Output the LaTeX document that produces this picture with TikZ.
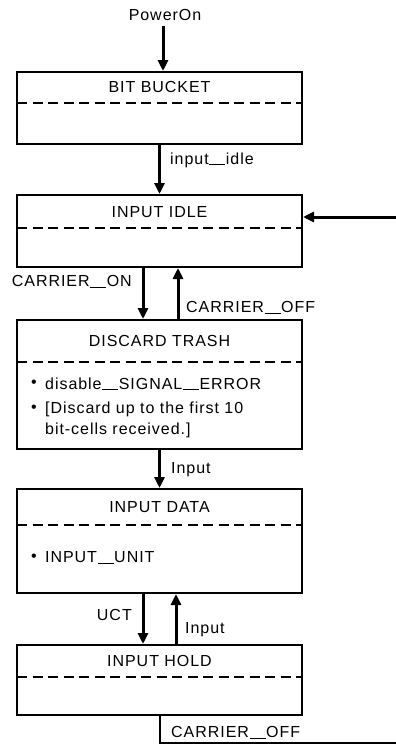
\documentclass[tikz,border=0pt]{standalone}
\usepackage{fontspec}
\setmainfont[LetterSpace=6]{Liberation Sans}
\usetikzlibrary{arrows.meta,calc}
\newcommand\usc{\kern0.6pt\rule[-1.2pt]{16pt}{1.1pt}\kern0.6pt}
\begin{document}
\begin{tikzpicture}[x=1pt,y=-1pt,
  every node/.style={font=\fontsize{16}{19}\selectfont, inner sep=0pt},
  statebox/.style={draw, line width=2pt, minimum width=285pt},
  sep/.style={line width=1.6pt, dash pattern=on 10pt off 5.5pt},
  arr/.style={line width=3pt, -{Triangle[length=11pt,width=10pt]}},
  lab/.style={anchor=west},
  labr/.style={anchor=east}]
\useasboundingbox (0,0) rectangle (396,755);
% states
\node[statebox, minimum height=72pt] (bb) at (159.5,108) {};
\node[statebox, minimum height=72pt] (ii) at (159.5,231) {};
\node[statebox, minimum height=129pt] (dt) at (159.5,384.5) {};
\node[statebox, minimum height=104pt] (id) at (159.5,541) {};
\node[statebox, minimum height=70pt] (ih) at (159.5,680) {};
% titles
\node (bbt) at ($(bb.north)+(0,16)$) {BIT BUCKET};
\node (iit) at ($(ii.north)+(0,18)$) {INPUT IDLE};
\node (dtt) at ($(dt.north)+(0,22)$) {DISCARD TRASH};
\node (idt) at ($(id.north)+(0,19)$) {INPUT DATA};
\node (iht) at ($(ih.north)+(0,17)$) {INPUT HOLD};
% separators
\draw[sep] ($(bb.north west)+(1,32)$) -- ($(bb.north east)+(-1,32)$);
\draw[sep] ($(ii.north west)+(1,34)$) -- ($(ii.north east)+(-1,34)$);
\draw[sep] ($(dt.north west)+(1,43)$) -- ($(dt.north east)+(-1,43)$);
\draw[sep] ($(id.north west)+(1,37)$) -- ($(id.north east)+(-1,37)$);
\draw[sep] ($(ih.north west)+(1,33)$) -- ($(ih.north east)+(-1,33)$);
% actions
\node (b1) at (34,384) {\textbullet};
\node[lab] (a1) at (45,384) {disable\usc SIGNAL\usc ERROR};
\node (b2) at (34,409) {\textbullet};
\node[lab] (a2) at (45,409) {[Discard up to the first 10};
\node[lab] (a3) at (45,430) {bit-cells received.]};
\node (b3) at (34,558) {\textbullet};
\node[lab] (a4) at (45,558) {INPUT\usc UNIT};
% transitions
\node (pw) at (165,15) {PowerOn};
\draw[arr] ([xshift=-2pt,yshift=-5pt]pw.south) -- ([xshift=-2pt]pw.south |- bb.north);
\draw[arr] (bb.south) -- (ii.north);
\node[lab] at (170,160) {input\usc idle};
\coordinate (ext) at (396,217);
\draw[arr] (ext) -- (ext -| ii.east);
\draw[arr] ([xshift=-16.5pt]ii.south) -- ([xshift=-16.5pt]dt.north);
\node[labr] at (132,282) {CARRIER\usc ON};
\draw[arr] ([xshift=18.5pt]dt.north) -- ([xshift=18.5pt]ii.south);
\node[lab] at (186,308) {CARRIER\usc OFF};
\draw[arr] (dt.south) -- (id.north);
\node[lab] at (171,470) {Input};
\draw[arr] ([xshift=-16.5pt]id.south) -- ([xshift=-16.5pt]ih.north);
\node[labr] at (132,615) {UCT};
\draw[arr] ([xshift=16.5pt]ih.north) -- ([xshift=16.5pt]id.south);
\node[lab] at (185,630) {Input};
\coordinate (out) at (396,743);
\draw[line width=2pt] (ih.south) |- (out);
\node[lab] at (171,733) {CARRIER\usc OFF};
\end{tikzpicture}
\end{document}
